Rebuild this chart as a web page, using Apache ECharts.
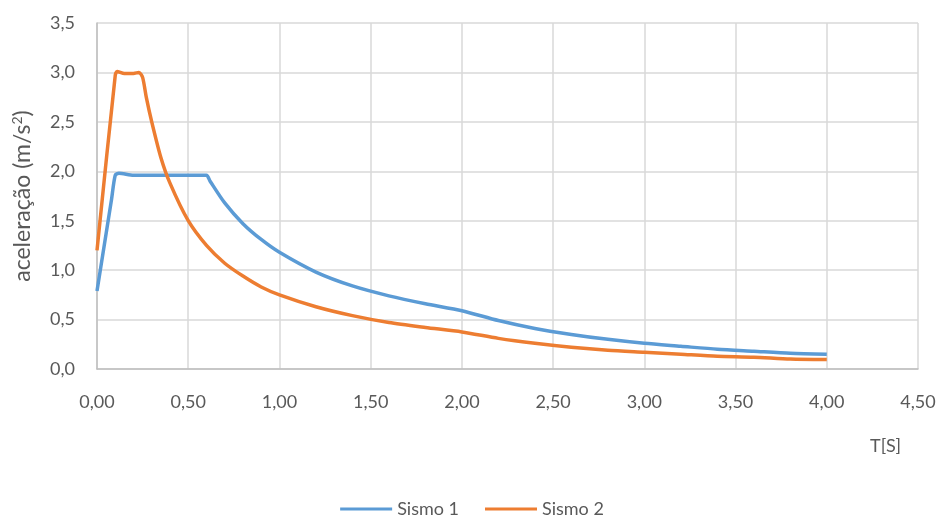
<!DOCTYPE html>
<html>
<head>
<meta charset="utf-8">
<script src="https://cdn.jsdelivr.net/npm/echarts@6/dist/echarts.min.js"></script>
<style>
  html, body { margin: 0; padding: 0; background: #fff; }
  #chart { width: 944px; height: 517px; }
</style>
</head>
<body>
<div id="chart"></div>
<script>
// periodo T[S] e aceleração
const sismo1T = [0, 0.08, 0.1, 0.12, 0.2, 0.3, 0.4, 0.5, 0.6, 0.62, 0.7, 0.8, 0.9, 1.0, 1.2, 1.4, 1.6, 1.8, 2.0, 2.2, 2.4, 2.6, 2.8, 3.0, 3.2, 3.4, 3.6, 3.8, 4.0]
const sismo1A = [0.79, 1.72, 1.96, 1.98, 1.96, 1.96, 1.96, 1.96, 1.96, 1.90, 1.68, 1.47, 1.31, 1.18, 0.98, 0.84, 0.74, 0.66, 0.59, 0.49, 0.41, 0.35, 0.30, 0.26, 0.23, 0.20, 0.18, 0.16, 0.15]
const sismo2T = [0, 0.1, 0.11, 0.15, 0.2, 0.23, 0.25, 0.27, 0.3, 0.35, 0.4, 0.5, 0.6, 0.7, 0.8, 0.9, 1.0, 1.2, 1.4, 1.6, 1.8, 2.0, 2.2, 2.4, 2.6, 2.8, 3.0, 3.2, 3.4, 3.6, 3.8, 4.0]
const sismo2A = [1.2, 2.97, 3.01, 2.99, 2.99, 3.0, 2.95, 2.75, 2.5, 2.14, 1.88, 1.5, 1.25, 1.07, 0.94, 0.83, 0.75, 0.63, 0.54, 0.47, 0.42, 0.375, 0.31, 0.26, 0.22, 0.19, 0.17, 0.15, 0.13, 0.12, 0.10, 0.095]
const seriesNames = ['Sismo 1', 'Sismo 2']

const textColor = '#595959'
const gridColor = '#d9d9d9'
const font = 'Lato, Noto Sans, sans-serif'

const chart = echarts.init(document.getElementById('chart'))

const option = {
  animation: false,
  textStyle: { fontFamily: font },
  grid: { left: 97, right: 26, top: 23, bottom: 148 },
  legend: {
    top: 495,
    left: 'center',
    itemWidth: 52,
    itemHeight: 3,
    itemGap: 26,
    icon: 'rect',
    textStyle: { fontSize: 18, color: textColor },
    data: seriesNames
  },
  graphic: [{
    type: 'text',
    left: 870,
    top: 437,
    style: { text: 'T[S]', fontSize: 18, fill: textColor, fontFamily: font }
  }],
  xAxis: {
    type: 'value',
    min: 0,
    max: 4.5,
    interval: 0.5,
    axisLine: { show: true, lineStyle: { color: '#bfbfbf', width: 1.5 } },
    axisTick: { show: false },
    splitLine: { show: true, lineStyle: { color: gridColor, width: 1.5 } },
    axisLabel: {
      fontSize: 18,
      color: textColor,
      margin: 24,
      formatter: v => v.toFixed(2).replace('.', ',')
    }
  },
  yAxis: {
    type: 'value',
    min: 0,
    max: 3.5,
    interval: 0.5,
    name: 'aceleração (m/s{sup|2})',
    nameLocation: 'middle',
    nameGap: 62,
    nameTextStyle: {
      fontSize: 23,
      color: textColor,
      rich: { sup: { fontSize: 14, color: textColor, verticalAlign: 'top', padding: [0, 0, 11, 0] } }
    },
    axisLine: { show: true, lineStyle: { color: '#bfbfbf', width: 1.5 } },
    axisTick: { show: false },
    splitLine: { show: true, lineStyle: { color: gridColor, width: 1.5 } },
    axisLabel: {
      fontSize: 18,
      color: textColor,
      margin: 22,
      formatter: v => v.toFixed(1).replace('.', ',')
    }
  },
  series: [
    {
      name: seriesNames[0],
      type: 'line',
      data: sismo1T.map((t, i) => [t, sismo1A[i]]),
      showSymbol: false,
      smooth: 0.25,
      itemStyle: { color: '#5b9bd5' },
      lineStyle: { color: '#5b9bd5', width: 3.5 }
    },
    {
      name: seriesNames[1],
      type: 'line',
      data: sismo2T.map((t, i) => [t, sismo2A[i]]),
      showSymbol: false,
      smooth: 0.25,
      itemStyle: { color: '#ed7d31' },
      lineStyle: { color: '#ed7d31', width: 3.5 }
    }
  ]
}

chart.setOption(option)
</script>
</body>
</html>
